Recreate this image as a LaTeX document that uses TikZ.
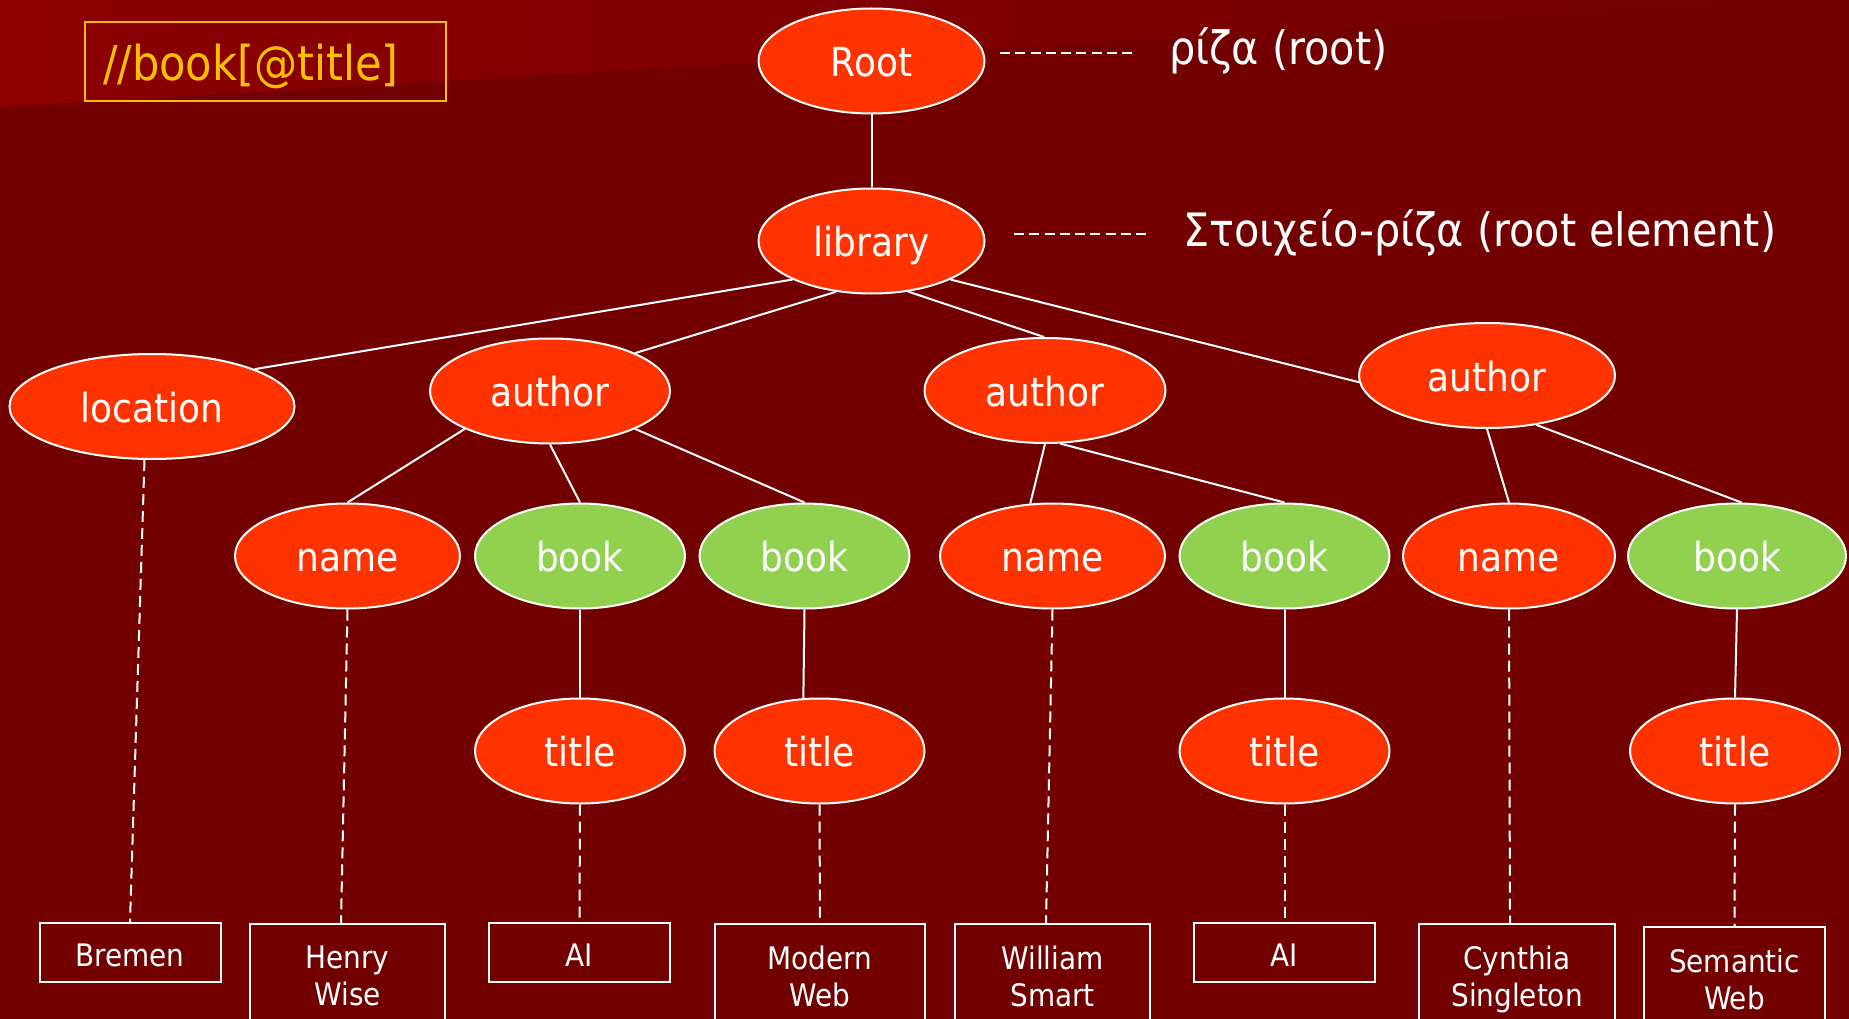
\documentclass[tikz,border=0pt]{standalone}
\usepackage{fontspec}
\setmainfont{DejaVu Sans Condensed}
\usetikzlibrary{shapes.geometric}
\definecolor{bgred}{RGB}{114,0,0}
\definecolor{bandred}{RGB}{140,0,0}
\definecolor{nodered}{RGB}{255,51,0}
\definecolor{bookgreen}{RGB}{146,208,80}
\definecolor{gold}{RGB}{255,192,0}

\begin{document}
\begin{tikzpicture}[x=1pt,y=-1pt,
  elem/.style={ellipse, draw=white, line width=2pt, fill=nodered, text=white,
    inner sep=0pt, minimum height=105pt, text height=40pt, text depth=9pt,
    font=\fontsize{40}{48}\selectfont},
  bookel/.style={elem, fill=bookgreen},
  leaf/.style={rectangle, draw=white, line width=2pt, text=white,
    font=\fontsize{31}{37}\selectfont, align=center},
  leafone/.style={leaf, minimum height=59pt, inner sep=0pt, text height=31pt, text depth=4pt},
  leaftwo/.style={leaf, anchor=north, inner xsep=0pt, inner ysep=22pt},
  link/.style={white, line width=2pt},
  dashlink/.style={white, line width=2pt, dash pattern=on 11pt off 6pt},
  hdashlink/.style={white, line width=2pt, dash pattern=on 10pt off 5.25pt},
  gloss/.style={text=white, font=\fontsize{46}{55}\selectfont, anchor=base west, inner sep=0pt}
]
% canvas and the lighter band in the upper left corner
\useasboundingbox (0,0) rectangle (1849,1019);
\clip (0,0) rectangle (1849,1019);
\fill[bgred] (0,0) rectangle (1849,1019);
\shade[left color=bandred, right color=bgred] (0,0) -- (1820,0) -- (0,107) -- cycle;

% query box
\node[draw=gold, line width=2pt, text=gold, font=\fontsize{48}{58}\selectfont,
  anchor=west, text width=325pt, align=left, inner xsep=18pt, inner ysep=0pt,
  minimum height=79pt, text height=49pt, text depth=11pt] (query) at (84,61.5) {//book[@title]};

% tree of elements
\node[elem, minimum width=226pt] (root) at (871.5,61) {Root};
\node[elem, minimum width=226pt] (lib) at (871.5,241) {library};
\node[elem, minimum width=285pt] (loc) at (152,406.5) {location};
\node[elem, minimum width=240pt] (au1) at (550,391) {author};
\node[elem, minimum width=241pt] (au2) at (1045,390.5) {author};
\node[elem, minimum width=256pt] (au3) at (1487,375.5) {author};
\node[elem, minimum width=225pt] (nm1) at (347.5,556) {name};
\node[bookel, minimum width=210pt] (bk1) at (580,556) {book};
\node[bookel, minimum width=210pt] (bk2) at (804.5,556) {book};
\node[elem, minimum width=225pt] (nm2) at (1052.5,556) {name};
\node[bookel, minimum width=210pt] (bk3) at (1284.5,556) {book};
\node[elem, minimum width=212pt] (nm3) at (1509,556) {name};
\node[bookel, minimum width=218pt] (bk4) at (1737,556) {book};
\node[elem, minimum width=210pt] (ti1) at (580,751) {title};
\node[elem, minimum width=210pt] (ti2) at (819.5,751) {title};
\node[elem, minimum width=210pt] (ti3) at (1284.5,751) {title};
\node[elem, minimum width=210pt] (ti4) at (1735,751) {title};

% text values
\node[leafone, minimum width=181pt] (bremen) at (130,952.5) {Bremen};
\node[leaftwo, minimum width=195pt] (henry) at (347.5,923) {Henry\\Wise};
\node[leafone, minimum width=181pt] (ai1) at (579.5,952.5) {AI};
\node[leaftwo, minimum width=210pt] (modern) at (820,923) {Modern\\Web};
\node[leaftwo, minimum width=195pt] (william) at (1052.5,923) {William\\Smart};
\node[leafone, minimum width=181pt] (ai2) at (1284.5,952.5) {AI};
\node[leaftwo, minimum width=196pt] (cynthia) at (1517,923) {Cynthia\\Singleton};
\node[leaftwo, minimum width=181pt] (semantic) at (1734.5,926) {Semantic\\Web};

% notes on the right
\node[gloss] (rootnote) at (1169,65) {ρίζα (root)};
\node[gloss] (libnote) at (1183,246) {Στοιχείο-ρίζα (root element)};
\coordinate (rn1) at (1000,53);
\coordinate (rn2) at (1132,53);
\coordinate (ln1) at (1014,233.5);
\coordinate (ln2) at (1149,233.5);
\draw[hdashlink] (rn1) -- (rn2);
\draw[hdashlink] (ln1) -- (ln2);

% parent-child links
\draw[link] (root) -- (lib);
\draw[link] (lib.206) -- (loc.20.6);
\draw[link] (lib.235) -- (au1.24);
\draw[link] (lib.306) -- (au2.91);
\draw[link] (lib.334.6) -- (au3.183.4);
\draw[link] (au1.204) -- (nm1.north);
\draw[link] (au1.south) -- (bk1.north);
\draw[link] (au1.336) -- (bk2.north);
\draw[link] (au2.south) -- (nm2.113);
\draw[link] (au2.286) -- (bk3.north);
\draw[link] (au3.south) -- (nm3.north);
\draw[link] (au3.315) -- (bk4.85);
\draw[link] (bk1) -- (ti1);
\draw[link] (bk2.south) -- (ti2.107);
\draw[link] (bk3) -- (ti3);
\draw[link] (bk4.south) -- (ti4.north);

% element-to-text links
\draw[dashlink] (loc.262) -- (bremen.north);
\draw[dashlink] (nm1.south) -- ([xshift=-6.5pt]henry.north);
\draw[dashlink] (ti1.south) -- (ai1.north);
\draw[dashlink] (ti2.south) -- (modern.north);
\draw[dashlink] (nm2.south) -- ([xshift=-6.5pt]william.north);
\draw[dashlink] (ti3.south) -- (ai2.north);
\draw[dashlink] (nm3.south) -- ([xshift=-7pt]cynthia.north);
\draw[dashlink] (ti4.south) -- (semantic.north);
\end{tikzpicture}
\end{document}
